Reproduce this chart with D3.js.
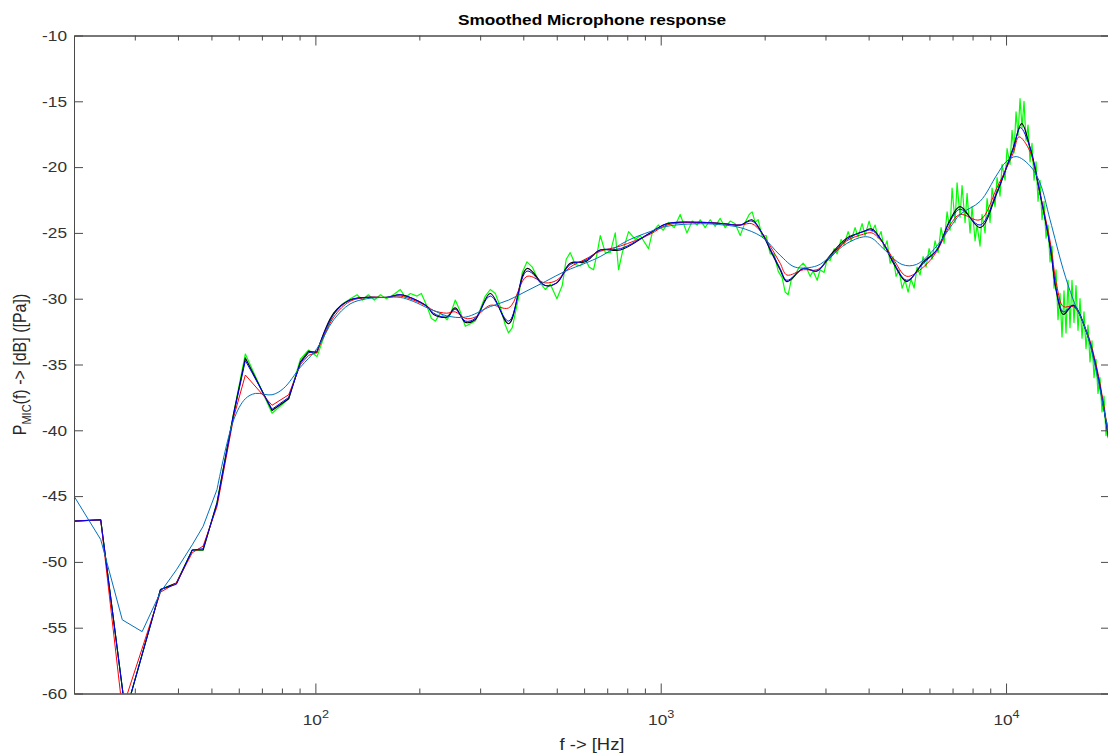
<!DOCTYPE html>
<html>
<head>
<meta charset="utf-8">
<script src="https://cdn.jsdelivr.net/npm/d3@7"></script>
<style>
  html, body { margin: 0; padding: 0; background: #ffffff; }
  svg { display: block; font-family: "Liberation Sans", Arial, Helvetica, sans-serif; }
</style>
</head>
<body>
<svg id="chart" width="1108" height="756"></svg>
<script>
// ---- Measured response (raw, green) ----
const rawFreq = [20,23.9,28.2,35.6,39.6,44.0,47.3,51.9,58.0,62.7,74.9,83.7,90.5,95.6,101.1,106.9,113.0,119.7,126.3,132.0,
  136.8,142.3,148.2,154.3,160.5,168.2,176.2,182.2,188.4,197.0,202.7,210.6,216.7,222.6,230.1,240.6,245.9,254.2,262.9,271.8,
  281.0,290.5,300.3,310.5,321.0,331.9,343.1,354.7,362.6,371.7,386.9,397.3,410.0,424.8,442.1,463.2,478.9,500.6,518.6,532.6,
  547.0,565.5,584.8,604.6,620.9,639.0,655.0,668.3,690.9,714.3,738.6,755.0,774.0,807.2,843.9,872.5,921.9,945.0,983.5,1016.7,
  1051.2,1094,1138.7,1190.7,1234,1275.5,1301,1345,1391,1438,1487,1537,1589,1643,1699,1756,1804,1840,1877,1915,
  1967,2020,2075,2131,2188,2247,2293,2339,2386,2451,2517,2585,2637,2708,2763,2838,2895,2973,3033,3094,
  3178,3242,3330,3397,3489,3559,3655,3729,3830,3907,4013,4094,4177,4261,4347,4435,4524,4616,4709,4804,
  4901,5000,5101,5204,5309,5417,5526,5637,5751,5867,5986,6107,6230,6356,6484,6615,6749,6885,6977,7118,
  7214,7359,7458,7609,7711,7867,7972,8134,8243,8409,8522,8694,8811,8988,9109,9293,9418,9608,9737,9934,
  10067,10270,10408,10548,10689,10832,10978,11125,11274,11425,11579,11734,11891,12051,12213,12376,12542,12711,12882,13055,
  13230,13408,13587,13769,13954,14141,14331,14523,14718,14916,15116,15318,15524,15732,15944,16158,16375,16595,16817,17043,
  17271,17503,17738,17976,18217,18461,18709,18960,19214,19472,19733,20000];
const rawLevel = [-46.9,-46.8,-61.5,-52.1,-51.6,-49.1,-49.1,-45.5,-38.7,-34.2,-38.7,-37.6,-34.6,-33.9,-34.4,-32.6,-31.1,-30.4,-30.0,-29.7,
  -30.1,-29.7,-30.1,-29.7,-30.0,-29.7,-29.3,-29.9,-29.6,-29.8,-29.6,-30.6,-31.5,-31.7,-31.1,-31.6,-31.2,-30.1,-31.0,-32.1,
  -31.9,-31.7,-30.8,-29.8,-29.3,-29.6,-30.6,-32.0,-32.6,-32.2,-30.0,-28.0,-27.2,-27.6,-28.6,-29.3,-28.9,-30.0,-29.0,-27.0,
  -26.5,-27.4,-27.5,-27.0,-27.6,-27.8,-26.5,-25.2,-26.5,-26.5,-25.0,-27.8,-26.5,-24.9,-25.5,-25.2,-26.2,-25.0,-24.4,-24.8,
  -24.2,-24.6,-23.6,-25.0,-24.1,-24.4,-24.0,-24.6,-24.0,-24.5,-23.9,-24.6,-24.1,-24.3,-25.2,-24.2,-23.6,-23.4,-24.2,-24.0,
  -25.3,-25.2,-26.6,-26.6,-27.9,-28.4,-29.5,-29.7,-28.6,-28.2,-27.6,-27.3,-27.6,-28.3,-27.9,-28.6,-27.8,-28.0,-27.0,-27.1,
  -26.2,-26.6,-25.5,-25.9,-24.9,-25.6,-24.6,-25.3,-24.3,-25.2,-24.1,-24.9,-24.4,-25.4,-24.9,-26.2,-25.6,-27.3,-26.8,-28.3,
  -27.8,-29.2,-28.6,-29.5,-28.5,-29.2,-27.6,-28.2,-26.8,-27.6,-26.2,-27.0,-25.6,-26.5,-24.6,-25.8,-23.4,-24.8,-21.6,-24.2,
  -21.2,-23.8,-21.4,-24.2,-22.0,-25.0,-23.0,-25.6,-24.4,-26.0,-23.6,-25.0,-22.4,-24.2,-21.6,-23.0,-20.8,-22.2,-19.8,-21.0,
  -18.6,-19.8,-17.2,-18.9,-15.8,-17.6,-14.8,-17.0,-15.0,-18.0,-16.8,-19.6,-18.2,-21.0,-19.6,-22.6,-21.0,-24.0,-22.6,-25.4,
  -24.4,-27.2,-26.0,-29.2,-27.8,-31.6,-29.6,-32.9,-29.4,-32.6,-28.6,-32.2,-28.6,-31.8,-29.0,-32.4,-30.0,-33.0,-31.0,-33.8,
  -32.0,-34.8,-33.2,-36.0,-34.6,-37.2,-36.0,-38.6,-37.4,-40.4,-39.4,-42.0];

// ---- Smoothed versions ----
const kFreq = [20,23.9,28.2,35.6,39.6,44,47.3,51.9,58,62.7,74.9,83.7,90.5,95.6,101,113,126,141,161,176,
  192,211,220,240,254,272,290,321,363,410,463,500,547,605,668,764,932,1042,1305,1520,
  1700,1836,1963,2075,2217,2319,2590,2833,3095,3459,3864,4087,4414,4719,5160,5764,6302,6886,7360,8412,
  9400,10500,11100,11730,12540,13410,14020,14650,15660,17130,18300,19570,20000];
const kLevel = [-46.9,-46.8,-61.5,-52.1,-51.6,-49.1,-49.1,-45.5,-38.7,-34.5,-38.5,-37.6,-34.8,-34.0,-34.1,-31.1,-30.1,-29.9,-29.9,-29.7,
  -30.0,-30.6,-31.2,-31.4,-30.7,-31.8,-31.6,-29.6,-31.9,-27.7,-29.0,-28.8,-27.3,-27.2,-26.3,-26.3,-25.0,-24.3,-24.2,-24.3,
  -24.4,-24.0,-25.0,-26.3,-27.8,-28.7,-27.7,-27.9,-26.7,-25.4,-24.9,-24.7,-25.8,-27.3,-28.7,-27.2,-26.3,-24.0,-23.0,-24.6,
  -22.0,-18.5,-16.7,-18.5,-22.0,-26.0,-29.6,-31.2,-30.5,-32.6,-35.4,-39.7,-41.5];

const bFreq = [20,23.9,28.2,35.6,39.6,44,47.3,51.9,58,62.7,74.9,83.7,90.5,95.6,101,113,126,141,161,176,
  192,211,220,240,254,272,290,321,363,410,463,500,547,605,668,764,932,1042,1305,1520,
  1700,1836,1963,2075,2217,2319,2590,2833,3095,3459,3864,4087,4414,4719,5160,5764,6302,6886,7360,8412,
  9400,10500,11000,11730,12540,13410,14020,14650,15660,17130,18300,19570,20000];
const bLevel = [-46.9,-46.8,-61.5,-52.1,-51.7,-49.1,-49.0,-45.6,-38.8,-34.7,-38.4,-37.5,-34.9,-34.1,-34.0,-31.2,-30.1,-29.9,-29.9,-29.7,
  -30.0,-30.6,-31.1,-31.4,-30.8,-31.7,-31.5,-29.8,-31.7,-27.9,-29.0,-28.8,-27.4,-27.1,-26.3,-26.2,-25.0,-24.3,-24.2,-24.3,
  -24.4,-24.1,-25.0,-26.2,-27.7,-28.6,-27.7,-27.9,-26.8,-25.5,-24.9,-24.8,-25.8,-27.2,-28.6,-27.3,-26.3,-24.1,-23.2,-24.4,
  -21.9,-18.6,-17.0,-18.5,-22.0,-26.0,-29.5,-31.0,-30.5,-32.6,-35.4,-39.7,-41.5];

const rFreq = [20,23.9,27.6,35.6,39.6,44,47.3,51.9,58,62.7,74.9,83.7,90.5,95.6,101,113,126,141,161,176,
  192,211,220,240,254,272,290,321,363,410,463,500,547,605,668,764,932,1042,1305,1520,
  1700,1836,1963,2075,2217,2319,2590,2833,3095,3459,3864,4087,4414,4719,5160,5764,6302,6886,7360,8412,
  9400,10500,10900,11730,12540,13410,14020,14650,15660,17130,18300,19570,20000];
const rLevel = [-46.9,-46.8,-61.2,-52.3,-51.6,-49.3,-48.8,-45.8,-39.0,-35.8,-38.1,-37.3,-35.0,-34.3,-34.1,-31.4,-30.2,-29.9,-29.9,-29.8,
  -30.1,-30.6,-30.9,-31.1,-31.0,-31.5,-31.4,-30.5,-30.7,-28.3,-28.8,-28.6,-27.6,-27.0,-26.4,-26.0,-25.1,-24.4,-24.2,-24.3,
  -24.4,-24.3,-25.0,-26.0,-27.3,-28.2,-27.8,-27.8,-26.9,-25.6,-25.1,-25.0,-25.8,-27.0,-28.3,-27.6,-26.4,-24.4,-23.6,-24.0,
  -21.6,-18.9,-17.7,-18.8,-22.0,-25.6,-29.0,-30.6,-30.6,-32.5,-35.2,-39.5,-41.3];

const cFreq = [20,23.9,27.6,31.5,35.6,39.6,44,47.3,51.9,58,62.7,67,74.9,81,90.5,101,113,126,141,161,
  176,192,211,220,240,272,321,363,410,463,530,605,668,800,932,1042,1305,1520,1700,1963,
  2217,2450,2833,3095,3459,3864,4087,4414,5000,5500,6302,6886,7360,8412,9400,10000,10700,11730,12540,13410,
  14650,15660,17130,19570,20000];
const cLevel = [-45.0,-48.3,-54.4,-55.3,-52.3,-50.6,-48.7,-47.3,-44.5,-39.2,-37.6,-37.2,-37.3,-36.8,-35.2,-33.8,-31.6,-30.4,-30.0,-29.9,
  -29.9,-30.2,-30.7,-30.9,-31.3,-31.4,-30.6,-30.1,-29.4,-28.7,-27.9,-27.3,-26.8,-25.6,-24.9,-24.5,-24.3,-24.4,-24.6,-25.3,
  -26.7,-27.6,-27.5,-26.8,-25.8,-25.3,-25.4,-26.2,-27.4,-27.4,-26.0,-24.6,-23.6,-22.6,-20.6,-19.6,-19.2,-19.9,-21.2,-24.0,
  -27.8,-30.1,-32.6,-39.5,-40.8];

// ---- Axis ticks ----
const yTicks = [-60,-55,-50,-45,-40,-35,-30,-25,-20,-15,-10];
const xMajor = [100, 1000, 10000];
const xMajorExp = ["2", "3", "4"];
const xMinor = [30,40,50,60,70,80,90,200,300,400,500,600,700,800,900,
                2000,3000,4000,5000,6000,7000,8000,9000];

// ---- Layout ----
const plot = { left: 74, right: 1110, top: 35.5, bottom: 693.5 };
const textStretch = 1.15;   // glyphs are drawn slightly wide
const svg = d3.select("#chart");

const x = d3.scaleLog().domain([20, 20000]).range([plot.left, plot.right]);
const y = d3.scaleLinear().domain([-60, -10]).range([plot.bottom, plot.top]);

svg.append("rect").attr("width", 1108).attr("height", 756).attr("fill", "#ffffff");

svg.append("defs").append("clipPath").attr("id", "plotClip")
  .append("rect")
  .attr("x", plot.left).attr("y", plot.top)
  .attr("width", plot.right - plot.left).attr("height", plot.bottom - plot.top);

// ---- Curves ----
// "coarse": below this frequency the bins are joined by straight segments
const series = [
  { f: rawFreq, v: rawLevel, color: "#00ff00", width: 1.2, coarse: Infinity },
  { f: kFreq,   v: kLevel,   color: "#000000", width: 1.1, coarse: 101 },
  { f: rFreq,   v: rLevel,   color: "#ff0000", width: 1.0, coarse: 101 },
  { f: bFreq,   v: bLevel,   color: "#0000ff", width: 1.0, coarse: 101 },
  { f: cFreq,   v: cLevel,   color: "#0072bd", width: 1.0, coarse: 50 }
];

const lineLinear = d3.line().x(d => x(d[0])).y(d => y(d[1]));
const lineSmooth = d3.line().x(d => x(d[0])).y(d => y(d[1])).curve(d3.curveCatmullRom.alpha(0.5));

const curves = svg.append("g").attr("clip-path", "url(#plotClip)");
series.forEach(s => {
  const pts = s.f.map((f, i) => [f, s.v[i]]);
  const split = pts.findIndex(p => p[0] >= s.coarse);
  let d;
  if (split < 0) {
    d = lineLinear(pts);
  } else {
    const dl = lineLinear(pts.slice(0, split + 1));
    const dh = lineSmooth(pts.slice(split));
    d = dl + "L" + dh.slice(1);
  }
  curves.append("path")
    .attr("d", d)
    .attr("fill", "none")
    .attr("stroke", s.color)
    .attr("stroke-width", s.width)
    .attr("stroke-linejoin", "round");
});

// ---- Axes (box with inward ticks) ----
const axisColor = "#4a4a4a";
const labelColor = "#333333";

function styleAxis(g) {
  g.selectAll("path.domain").attr("stroke", axisColor).attr("stroke-width", 1);
  g.selectAll(".tick line").attr("stroke", axisColor).attr("stroke-width", 1);
}

// bottom: major ticks with labels, then minor ticks
const gBottom = svg.append("g").attr("transform", `translate(0,${plot.bottom})`)
  .call(d3.axisBottom(x).tickValues(xMajor).tickSizeInner(-10).tickSizeOuter(0).tickFormat(""));
styleAxis(gBottom);
gBottom.selectAll(".tick").each(function(d, i) {
  const t = d3.select(this).append("text")
    .attr("transform", `translate(0,31) scale(${textStretch},1)`)
    .attr("text-anchor", "middle")
    .attr("fill", labelColor)
    .style("font-size", "15px");
  t.append("tspan").text("10");
  t.append("tspan").attr("dy", "-7").style("font-size", "11px").text(xMajorExp[i]);
});
const gBottomMinor = svg.append("g").attr("transform", `translate(0,${plot.bottom})`)
  .call(d3.axisBottom(x).tickValues(xMinor).tickSizeInner(-5).tickSizeOuter(0).tickFormat(""));
styleAxis(gBottomMinor);

// top
const gTop = svg.append("g").attr("transform", `translate(0,${plot.top})`)
  .call(d3.axisTop(x).tickValues(xMajor).tickSizeInner(-10).tickSizeOuter(0).tickFormat(""));
styleAxis(gTop);
const gTopMinor = svg.append("g").attr("transform", `translate(0,${plot.top})`)
  .call(d3.axisTop(x).tickValues(xMinor).tickSizeInner(-5).tickSizeOuter(0).tickFormat(""));
styleAxis(gTopMinor);

// left with labels
const gLeft = svg.append("g").attr("transform", `translate(${plot.left},0)`)
  .call(d3.axisLeft(y).tickValues(yTicks).tickSizeInner(-9).tickSizeOuter(0).tickPadding(7)
    .tickFormat(d => String(d)));
styleAxis(gLeft);
gLeft.selectAll(".tick text")
  .attr("x", null)
  .attr("transform", `translate(-7,0) scale(${textStretch},1)`)
  .attr("fill", labelColor)
  .style("font-size", "15px").style("font-family", "'Liberation Sans', Arial, sans-serif");

// right
const gRight = svg.append("g").attr("transform", `translate(${plot.right},0)`)
  .call(d3.axisRight(y).tickValues(yTicks).tickSizeInner(-9).tickSizeOuter(0).tickFormat(""));
styleAxis(gRight);

// ---- Titles ----
svg.append("text")
  .attr("transform", `translate(${(plot.left + plot.right) / 2},25) scale(${textStretch},1)`)
  .attr("text-anchor", "middle")
  .attr("fill", "#000000")
  .style("font-size", "15px").style("font-weight", "bold")
  .text("Smoothed Microphone response");

svg.append("text")
  .attr("transform", `translate(${(plot.left + plot.right) / 2},750) scale(${textStretch},1)`)
  .attr("text-anchor", "middle")
  .attr("fill", "#262626")
  .style("font-size", "16px")
  .text("f -> [Hz]");

const yl = svg.append("text")
  .attr("transform", `translate(26,${(plot.top + plot.bottom) / 2}) rotate(-90) scale(1,${textStretch})`)
  .attr("text-anchor", "middle")
  .attr("fill", "#262626")
  .style("font-size", "16px");
yl.append("tspan").text("P");
yl.append("tspan").attr("dy", "4").style("font-size", "11px").text("MIC");
yl.append("tspan").attr("dy", "-4").text("(f) -> [dB] ([Pa])");
</script>
</body>
</html>
